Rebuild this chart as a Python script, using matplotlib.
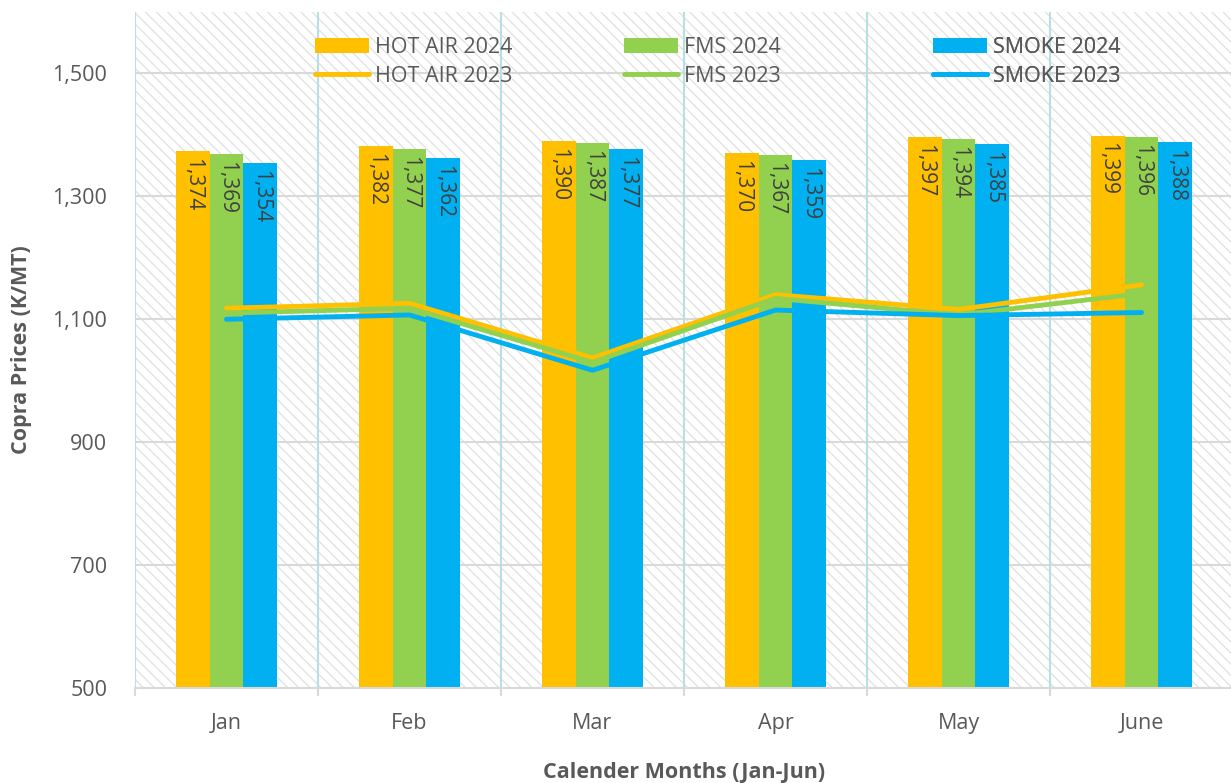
import matplotlib
matplotlib.use("Agg")
import matplotlib.pyplot as plt
import numpy as np
from matplotlib.patches import Rectangle

months = ["Jan", "Feb", "Mar", "Apr", "May", "June"]
hot_air_2024 = [1374, 1382, 1390, 1370, 1397, 1399]
fms_2024 = [1369, 1377, 1387, 1367, 1394, 1396]
smoke_2024 = [1354, 1362, 1377, 1359, 1385, 1388]
hot_air_2023 = [1118, 1126, 1037, 1140, 1116, 1156]
fms_2023 = [1110, 1118, 1030, 1134, 1107, 1142]
smoke_2023 = [1100, 1107, 1017, 1115, 1106, 1111]
yticks = [500, 700, 900, 1100, 1300, 1500]

ORANGE = "#FFC000"
GREEN = "#92D050"
BLUE = "#00B0F0"
TXT = "#595959"

plt.rcParams['font.family'] = ['Open Sans', 'DejaVu Sans']
plt.rcParams['hatch.linewidth'] = 0.9
plt.rcParams['hatch.color'] = '#e0e0e0'

fig = plt.figure(figsize=(12.31, 7.83), dpi=100)
ax = fig.add_axes([135/1231, 95/783, 1098/1231, 676/783])

x = np.arange(len(months))
w = 0.185

ax.set_xlim(-0.5, len(months) - 0.5)
ax.set_ylim(500, 1600)

# hatched background
bg = Rectangle((0, 0), 1, 1, transform=ax.transAxes, facecolor='white',
               edgecolor='#e0e0e0', hatch='\\' * 3, linewidth=0, zorder=0)
ax.add_patch(bg)

# gridlines
for yv in yticks:
    ax.axhline(yv, color='#d9d9d9', lw=1.5, zorder=1)
for b in np.arange(-0.5, len(months), 1.0):
    ax.axvline(b, color='#b7dfe5', lw=1.5, zorder=1)

bars = []
for off, vals, col, lab in [(-w, hot_air_2024, ORANGE, "HOT AIR 2024"),
                            (0, fms_2024, GREEN, "FMS 2024"),
                            (w, smoke_2024, BLUE, "SMOKE 2024")]:
    b = ax.bar(x + off, vals, width=w, color=col, label=lab, zorder=2, linewidth=0)
    bars.append(b)
    for xi, v in zip(x + off, vals):
        ax.annotate(f"{v:,}", (xi, v), xytext=(0, -5), textcoords='offset points',
                    rotation=270, ha='center', va='top', fontsize=15,
                    color='#404040', zorder=4)

lines = []
for vals, col, lab in [(hot_air_2023, ORANGE, "HOT AIR 2023"),
                       (fms_2023, GREEN, "FMS 2023"),
                       (smoke_2023, BLUE, "SMOKE 2023")]:
    l, = ax.plot(x, vals, color=col, lw=3.5, solid_capstyle='round',
                 solid_joinstyle='round', label=lab, zorder=3)
    lines.append(l)

legx = [(315 - 135) / 1098, (624 - 135) / 1098, (933 - 135) / 1098]
for i in range(3):
    hs = [bars[i], lines[i]]
    leg = ax.legend(hs, [h.get_label() for h in hs], loc='upper left',
                    bbox_to_anchor=(legx[i], 1 - 25/676), frameon=False,
                    fontsize=15.5, labelcolor=TXT, handlelength=2.5,
                    handletextpad=0.3, labelspacing=0.35,
                    borderaxespad=0, borderpad=0)
    leg.set_zorder(5)
    ax.add_artist(leg)

ax.set_yticks(yticks)
ax.set_yticklabels([f"{v:,}" for v in yticks])
ax.set_xticks(x)
ax.set_xticklabels(months)
ax.tick_params(axis='y', length=0, pad=20, labelsize=15.5, labelcolor=TXT)
ax.tick_params(axis='x', length=0, pad=18, labelsize=15.5, labelcolor=TXT)
ax.set_xticks(np.arange(-0.5, len(months), 1.0), minor=True)
ax.tick_params(axis='x', which='minor', length=6, width=1.5, color='#d9d9d9')

for s in ['top', 'right', 'left']:
    ax.spines[s].set_visible(False)
ax.spines['bottom'].set_color('#d9d9d9')
ax.spines['bottom'].set_linewidth(1.5)
ax.spines['bottom'].set_zorder(3)

ax.set_ylabel("Copra Prices (K/MT)", fontsize=15.5, fontweight='bold', color=TXT, labelpad=15)
ax.set_xlabel("Calender Months (Jan-Jun)", fontsize=15.5, fontweight='bold', color=TXT, labelpad=20)

fig.savefig("out.png", dpi=100)
